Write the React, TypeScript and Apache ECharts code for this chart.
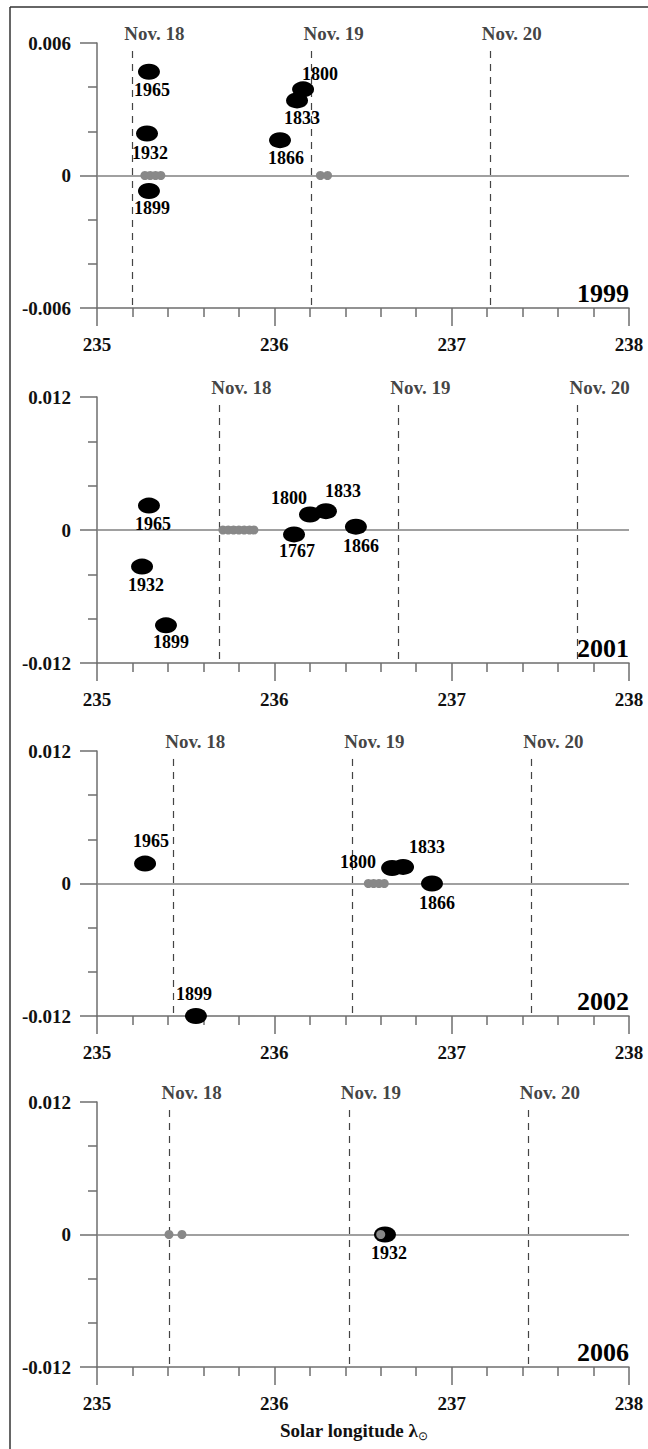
import React, { useEffect, useRef } from 'react';
import * as echarts from 'echarts';

const FONT = "'Liberation Serif', 'Times New Roman', Times, serif";

// ---------- data ----------
const panelYears = ['1999', '2001', '2002', '2006'];
const dayNames = ['Nov. 18', 'Nov. 19', 'Nov. 20'];
const xMin = 235;
const xMax = 238;
const yMaxes = [0.006, 0.012, 0.012, 0.012];

const years1999 = ['1965', '1932', '1899', '1800', '1833', '1866'];
const lon1999 = [235.293, 235.282, 235.293, 236.162, 236.128, 236.032];
const dev1999 = [0.0047, 0.0019, -0.0007, 0.0039, 0.0034, 0.0016];
const grayLon1999 = [235.27, 235.3, 235.33, 235.36, 236.26, 236.3];
const dayLon1999 = [235.2, 236.21, 237.215];

const years2001 = ['1965', '1932', '1899', '1800', '1833', '1767', '1866'];
const lon2001 = [235.293, 235.254, 235.389, 236.201, 236.291, 236.111, 236.46];
const dev2001 = [0.0022, -0.0033, -0.0086, 0.0014, 0.0017, -0.0004, 0.0003];
const grayLon2001 = [235.71, 235.74, 235.77, 235.8, 235.83, 235.86, 235.885];
const dayLon2001 = [235.69, 236.7, 237.71];

const years2002 = ['1965', '1899', '1800', '1833', '1866'];
const lon2002 = [235.271, 235.558, 236.664, 236.726, 236.889];
const dev2002 = [0.0018, -0.012, 0.0014, 0.0015, 0];
const grayLon2002 = [236.53, 236.56, 236.59, 236.62];
const dayLon2002 = [235.43, 236.44, 237.45];

const years2006 = ['1932'];
const lon2006 = [236.624];
const dev2006 = [0];
const grayLon2006 = [235.406, 235.479, 236.6];
const dayLon2006 = [235.41, 236.42, 237.43];

// ---------- layout (styles) ----------
const gridTops = [43, 397, 751, 1102];
const gridHeights = [265, 266, 265, 265];
const GRID_LEFT = 97;
const GRID_WIDTH = 532;
const labelOffsets = [
  [[3, 18], [3, 19], [3, 17], [17, -15], [5, 18], [6, 18]],
  [[4, 18], [4, 18], [5, 17], [-21, -16], [17, -20], [3, 17], [5, 19]],
  [[6, -23], [-2, -22], [-34, -6], [24, -20], [5, 19]],
  [[4, 18]],
];

const panels = [
  { years: years1999, lon: lon1999, dev: dev1999, gray: grayLon1999, days: dayLon1999 },
  { years: years2001, lon: lon2001, dev: dev2001, gray: grayLon2001, days: dayLon2001 },
  { years: years2002, lon: lon2002, dev: dev2002, gray: grayLon2002, days: dayLon2002 },
  { years: years2006, lon: lon2006, dev: dev2006, gray: grayLon2006, days: dayLon2006 },
];

const AX = '#6e6e6e';

export default function App() {
  const ref = useRef<HTMLDivElement>(null);
  useEffect(() => {
    const chart = echarts.init(ref.current!, null, { renderer: 'svg' });
    const grid: any[] = [];
    const xAxis: any[] = [];
    const yAxis: any[] = [];
    const series: any[] = [];
    const graphic: any[] = [];

    panels.forEach((p, i) => {
      const ymax = yMaxes[i];
      grid.push({ left: GRID_LEFT, top: gridTops[i], width: GRID_WIDTH, height: gridHeights[i] });
      xAxis.push({
        type: 'value',
        gridIndex: i,
        min: xMin,
        max: xMax,
        interval: 1,
        axisLine: { show: true, onZero: false, lineStyle: { color: AX, width: 1.5 } },
        axisTick: { show: true, length: 18, lineStyle: { color: AX, width: 1.5 } },
        minorTick: { show: true, splitNumber: 5, length: 9, lineStyle: { color: AX, width: 1.5 } },
        splitLine: { show: false },
        minorSplitLine: { show: false },
        axisLabel: { margin: 27, fontFamily: FONT, fontWeight: 'bold', fontSize: 19, color: '#111' },
      });
      yAxis.push({
        type: 'value',
        gridIndex: i,
        min: -ymax,
        max: ymax,
        interval: ymax,
        axisLine: { show: true, onZero: false, lineStyle: { color: AX, width: 1.5 } },
        axisTick: { show: true, length: 17, lineStyle: { color: AX, width: 1.5 } },
        minorTick: { show: true, splitNumber: 3, length: 9, lineStyle: { color: AX, width: 1.5 } },
        splitLine: { show: false },
        minorSplitLine: { show: false },
        axisLabel: {
          margin: 26,
          fontFamily: FONT,
          fontWeight: 'bold',
          fontSize: 19,
          color: '#111',
          formatter: (v: number) => (Math.abs(v) < 1e-12 ? '0' : v.toFixed(3)),
        },
      });

      // zero line
      series.push({
        type: 'scatter',
        xAxisIndex: i,
        yAxisIndex: i,
        data: [],
        silent: true,
        markLine: {
          silent: true,
          symbol: 'none',
          z: 1,
          label: { show: false },
          lineStyle: { color: '#808080', width: 1.5, type: 'solid', opacity: 1 },
          data: [{ yAxis: 0 }],
        },
      });

      // day boundaries
      series.push({
        type: 'scatter',
        xAxisIndex: i,
        yAxisIndex: i,
        clip: false,
        silent: true,
        symbolSize: 1,
        itemStyle: { color: 'rgba(0,0,0,0)' },
        label: {
          show: true,
          position: 'inside',
          offset: [22, -10],
          formatter: '{b}',
          fontFamily: FONT,
          fontWeight: 'bold',
          fontSize: 19,
          color: '#111',
        },
        data: p.days.map((x, k) => ({ name: dayNames[k], value: [x, ymax] })),
        markLine: {
          silent: true,
          symbol: 'none',
          z: 2,
          label: { show: false },
          lineStyle: { color: '#444', width: 1.2, type: [7, 6], opacity: 1 },
          data: p.days.map((x) => [{ coord: [x, ymax * 0.94] }, { coord: [x, -ymax] }]),
        },
      });

      // meteor trail points
      series.push({
        type: 'scatter',
        xAxisIndex: i,
        yAxisIndex: i,
        clip: false,
        silent: true,
        z: 10,
        symbol: 'circle',
        symbolSize: [22, 16],
        itemStyle: { color: '#000', opacity: 1 },
        label: {
          show: true,
          position: 'inside',
          formatter: '{b}',
          fontFamily: FONT,
          fontWeight: 'bold',
          fontSize: 18,
          color: '#000',
        },
        data: p.years.map((y, k) => ({
          name: y,
          value: [p.lon[k], p.dev[k]],
          label: { offset: labelOffsets[i][k] },
        })),
      });

      // gray points
      series.push({
        type: 'scatter',
        xAxisIndex: i,
        yAxisIndex: i,
        clip: false,
        silent: true,
        z: 11,
        symbol: 'circle',
        symbolSize: 9,
        itemStyle: { color: '#888888', opacity: 1 },
        data: p.gray.map((x) => [x, 0]),
      });

      graphic.push({
        type: 'text',
        x: GRID_LEFT + GRID_WIDTH,
        y: gridTops[i] + gridHeights[i] - 15,
        silent: true,
        style: {
          text: panelYears[i],
          align: 'right',
          verticalAlign: 'middle',
          font: `bold 26px ${FONT}`,
          fill: '#000',
        },
      });
    });

    graphic.push({
      type: 'text',
      x: 280,
      y: 1418,
      silent: true,
      style: {
        text: '{m|Solar longitude λ}{s|⊙}',
        align: 'left',
        verticalAlign: 'top',
        rich: {
          m: { fontFamily: FONT, fontWeight: 'bold', fontSize: 19, lineHeight: 24, fill: '#111' },
          s: { fontFamily: FONT, fontSize: 12, lineHeight: 12, verticalAlign: 'bottom', fill: '#111' },
        },
      },
    });
    graphic.push({
      type: 'line',
      silent: true,
      shape: { x1: 10, y1: 7, x2: 648, y2: 7 },
      style: { stroke: '#333', lineWidth: 1.5 },
    });
    graphic.push({
      type: 'line',
      silent: true,
      shape: { x1: 10, y1: 7, x2: 10, y2: 1449 },
      style: { stroke: '#333', lineWidth: 1.5 },
    });

    chart.setOption({
      animation: false,
      backgroundColor: '#fff',
      grid,
      xAxis,
      yAxis,
      series,
      graphic,
    });
    return () => chart.dispose();
  }, []);
  return (
    <div
      ref={ref}
      style={{ position: 'absolute', left: 0, top: 0, width: 648, height: 1449, background: '#fff' }}
    />
  );
}
